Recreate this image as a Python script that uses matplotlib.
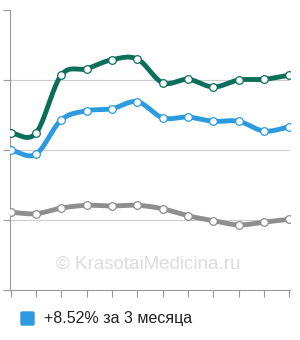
import numpy as np
import matplotlib
matplotlib.use("Agg")
import matplotlib.pyplot as plt
from matplotlib.patches import FancyBboxPatch

# values (12 points per series)
months = list(range(12))
green = [2.24, 2.24, 3.07, 3.16, 3.29, 3.30, 2.96, 3.01, 2.90, 3.00, 3.01, 3.07]
blue = [2.00, 1.94, 2.43, 2.56, 2.59, 2.69, 2.46, 2.47, 2.41, 2.41, 2.27, 2.33]
grey = [1.11, 1.09, 1.17, 1.21, 1.20, 1.21, 1.16, 1.06, 0.99, 0.93, 0.97, 1.01]
y_ticks = [0, 1, 2, 3, 4]
legend_label = "+8.52% за 3 месяца"
watermark = "© KrasotaiMedicina.ru"


def smooth(x, y, n=20):
    # catmull-rom spline through the points, just for drawing
    x = np.asarray(x, float)
    y = np.asarray(y, float)
    px = np.concatenate([[2 * x[0] - x[1]], x, [2 * x[-1] - x[-2]]])
    py = np.concatenate([[2 * y[0] - y[1]], y, [2 * y[-1] - y[-2]]])
    xs, ys = [], []
    t = np.linspace(0, 1, n, endpoint=False)
    for i in range(1, len(px) - 2):
        for p, out in ((px, xs), (py, ys)):
            p0, p1, p2, p3 = p[i - 1], p[i], p[i + 1], p[i + 2]
            out.extend(0.5 * ((2 * p1) + (-p0 + p2) * t
                              + (2 * p0 - 5 * p1 + 4 * p2 - p3) * t ** 2
                              + (-p0 + 3 * p1 - 3 * p2 + p3) * t ** 3))
    xs.append(x[-1])
    ys.append(y[-1])
    return np.array(xs), np.array(ys)


plt.rcParams['font.family'] = ['Liberation Sans', 'DejaVu Sans']

fig = plt.figure(figsize=(3, 3.4), dpi=100)
ax = fig.add_axes([10 / 300, 50 / 340, 280 / 300, 280 / 340])

for v in y_ticks[1:-1]:
    ax.axhline(v, color='#cccccc', lw=0.8, zorder=1)

for series, color in ((grey, '#8e8e8e'), (blue, '#2b9ade'), (green, '#0a6e5a')):
    sx, sy = smooth(months, series)
    ax.plot(sx, sy, color=color, lw=3.5, solid_capstyle='round', zorder=2)
    ax.plot(months, series, 'o', ms=5.5, mfc='white', mec=color, mew=0.9, zorder=3)

ax.set_xlim(-0.02, 11.02)
ax.set_ylim(0, 4)
ax.set_xticks(months)
ax.set_yticks(y_ticks)
ax.set_xticklabels([])
ax.set_yticklabels([])
ax.tick_params(axis='both', color='#999999', length=5, width=0.8)
for s in ('top', 'right'):
    ax.spines[s].set_visible(False)
for s in ('left', 'bottom'):
    ax.spines[s].set_color('#999999')
    ax.spines[s].set_linewidth(0.8)

ax.text(0.493, 0.09, watermark, transform=ax.transAxes, ha='center', va='center',
        fontsize=13.5, color='#dcdcdc', zorder=0)

fig.patches.append(FancyBboxPatch((21 / 300, 1 - 325 / 340), 13 / 300, 13 / 340,
                                  boxstyle='round,pad=0,rounding_size=0.004',
                                  transform=fig.transFigure, color='#2b9ade'))
fig.text(44 / 300, 1 - 319 / 340, legend_label, ha='left', va='center',
         fontsize=11.5, color='#222222')

fig.savefig('out.png', dpi=100)
